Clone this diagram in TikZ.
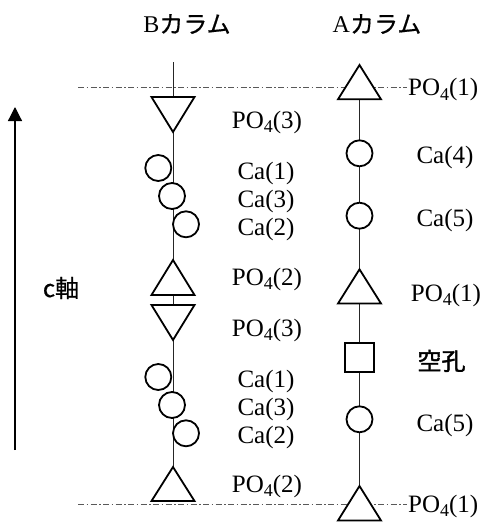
\documentclass[tikz,border=0pt]{standalone}
\usepackage{fontspec}
\setmainfont{Liberation Serif}
\newfontfamily\jp{Noto Sans CJK JP}
\newfontfamily\jpbold[FakeBold=1.6]{Noto Sans CJK JP}
\newfontfamily\jpmed[FakeBold=0.5]{Noto Sans CJK JP}
\usetikzlibrary{arrows.meta}
\newcommand\subfour{\raisebox{-4.5pt}{\fontsize{18}{18}\selectfont 4}}
\begin{document}
\begin{tikzpicture}[x=1pt,y=-1pt,
  lbl/.style={font=\fontsize{25}{30}\selectfont, inner sep=0pt, anchor=base},
  head/.style={font=\fontsize{24}{28}\selectfont, inner sep=0pt},
  atom/.style={circle, draw, fill=white, line width=1.8pt, minimum size=26pt, inner sep=0pt},
  vac/.style={rectangle, draw, fill=white, line width=1.8pt, minimum size=29pt, inner sep=0pt},
  shp/.style={draw, fill=white, line width=1.8pt, line join=miter},
  axisline/.style={line width=0.9pt, draw=black!85},
  cutline/.style={draw=black!65, line width=0.9pt, dash pattern=on 6pt off 2.5pt on 1.5pt off 2.5pt},
]
\useasboundingbox (0,0) rectangle (483,522);

% headings
\node[head] (hB) at (187,24) {B{\jpmed カラム}};
\node[head] (hA) at (377,24) {A{\jpmed カラム}};

% c axis arrow
\coordinate (cbot) at (15,450);
\coordinate (ctop) at (15,107);
\draw[line width=1.2pt, -{Triangle[length=14pt,width=14pt]}] (cbot) -- (ctop);
\node[head] (caxis) at (61,288) {\jpmed c軸};

% dash-dot cut lines
\coordinate (dt1) at (78,87.7);
\coordinate (dt2) at (407,87.7);
\coordinate (db1) at (78,504.3);
\coordinate (db2) at (407,504.3);
\draw[cutline] (dt1) -- (dt2);
\draw[cutline] (db1) -- (db2);

% column axes
\coordinate (Btop) at (173,62);
\coordinate (Bbot) at (173,467);
\coordinate (Atop) at (359.5,99);
\coordinate (Abot) at (359.5,486);
\draw[axisline] (Btop) -- (Bbot);
\draw[axisline] (Atop) -- (Abot);

% B column shapes
\draw[shp] (151.5,97) -- (194.5,97) -- (173,132) -- cycle;
\draw[shp] (173,260) -- (194.5,295) -- (151.5,295) -- cycle;
\draw[shp] (151.5,305) -- (194.5,305) -- (173,340) -- cycle;
\draw[shp] (173,467) -- (194.5,501) -- (151.5,501) -- cycle;
\node[atom] (b1) at (158.3,168) {};
\node[atom] (b2) at (172,196) {};
\node[atom] (b3) at (186,224.3) {};
\node[atom] (b4) at (158.3,377) {};
\node[atom] (b5) at (172,405) {};
\node[atom] (b6) at (186,433.3) {};

% A column shapes
\draw[shp] (359.5,65) -- (381,99.3) -- (338,99.3) -- cycle;
\draw[shp] (359.5,269.3) -- (381,303.5) -- (338,303.5) -- cycle;
\draw[shp] (359.5,486) -- (381,520.5) -- (338,520.5) -- cycle;
\node[atom] (a1) at (359.5,153.3) {};
\node[atom] (a2) at (359.5,215.7) {};
\node[vac] (v1) at (359.5,357.3) {};
\node[atom] (a3) at (359.5,419.3) {};

% B labels
\node[lbl] (lb1) at (267,128) {PO\subfour(3)};
\node[lbl] (lb2) at (266,179) {Ca(1)};
\node[lbl] (lb3) at (266,207) {Ca(3)};
\node[lbl] (lb4) at (266,235) {Ca(2)};
\node[lbl] (lb5) at (267,285) {PO\subfour(2)};
\node[lbl] (lb6) at (267,336) {PO\subfour(3)};
\node[lbl] (lb7) at (266,387) {Ca(1)};
\node[lbl] (lb8) at (266,415) {Ca(3)};
\node[lbl] (lb9) at (266,443) {Ca(2)};
\node[lbl] (lb10) at (267,492) {PO\subfour(2)};

% A labels
\node[lbl, anchor=base west] (la1) at (408,95.5) {PO\subfour(1)};
\node[lbl] (la2) at (445,163) {Ca(4)};
\node[lbl] (la3) at (445,226) {Ca(5)};
\node[lbl] (la4) at (446,301) {PO\subfour(1)};
\node[lbl, font=\fontsize{24}{28}\selectfont\jpbold] (la5) at (441.5,370) {空孔};
\node[lbl] (la6) at (445,431) {Ca(5)};
\node[lbl, anchor=base west] (la7) at (408,512) {PO\subfour(1)};
\end{tikzpicture}
\end{document}
